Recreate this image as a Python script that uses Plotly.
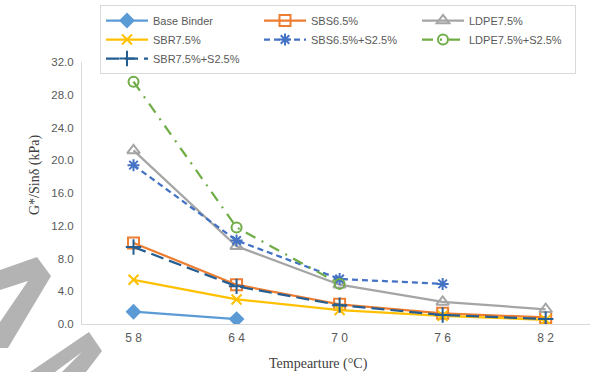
import plotly.graph_objects as go

categories = ["58", "64", "70", "76", "82"]
tick_labels = ["5 8", "6 4", "7 0", "7 6", "8 2"]

base_binder = [1.5, 0.6]
sbs65 = [9.9, 4.8, 2.4, 1.3, 0.8]
ldpe75 = [21.2, 9.5, 4.8, 2.7, 1.8]
sbr75 = [5.4, 3.0, 1.7, 1.0, 0.5]
sbs65_s25 = [19.4, 10.2, 5.5, 4.9]
ldpe75_s25 = [29.6, 11.8, 4.9]
sbr75_s25 = [9.4, 4.6, 2.3, 1.1, 0.6]

y_ticks = [0, 4, 8, 12, 16, 20, 24, 28, 32]

series = [
    ("Base Binder", base_binder, "#5B9BD5", "solid", "diamond", 10),
    ("SBS6.5%", sbs65, "#ED7D31", "solid", "square-open", 11),
    ("LDPE7.5%", ldpe75, "#A5A5A5", "solid", "triangle-up-open", 11),
    ("SBR7.5%", sbr75, "#FFC000", "solid", "x-thin-open", 10),
    ("SBS6.5%+S2.5%", sbs65_s25, "#4472C4", "6px,4px", "asterisk-open", 10),
    ("LDPE7.5%+S2.5%", ldpe75_s25, "#70AD47", "11px,7px,2px,7px", "circle-open", 10),
    ("SBR7.5%+S2.5%", sbr75_s25, "#255E91", "13px,6px", "cross-thin-open", 11),
]

fig = go.Figure()
for name, vals, color, dash, sym, size in series:
    fig.add_trace(go.Scatter(
        x=list(range(len(vals))), y=vals, name=name, mode="lines+markers",
        line=dict(color=color, width=2.25, dash=dash),
        marker=dict(symbol=sym, size=size, color=color,
                    line=dict(color=color, width=2)),
    ))

L, R, T, B = 82, 0, 62, 48
W, H = 590, 372
pw, ph = W - L - R, H - T - B

def px(x, y):
    return (x - L) / pw, (H - B - y) / ph

def poly(pts):
    s = ""
    for i, (x, y) in enumerate(pts):
        a, b = px(x, y)
        s += ("M" if i == 0 else "L") + f"{a:.4f},{b:.4f} "
    return s + "Z"

shapes = [
    dict(type="path", xref="paper", yref="paper", layer="above",
         path=poly([(0, 270), (37, 257), (51, 276), (8, 348), (0, 348), (0, 322), (28, 281), (0, 290)]),
         fillcolor="#B3B3B3", line=dict(width=0)),
    dict(type="path", xref="paper", yref="paper", layer="above",
         path=poly([(30, 372), (89, 332), (102, 351), (86, 372), (62, 372), (82, 352), (55, 372)]),
         fillcolor="#B3B3B3", line=dict(width=0)),
]

xt_x, xt_y = px(318, 364)
yt_x, yt_y = px(35, 175)
annotations = [
    dict(text="Tempearture (°C)", xref="paper", yref="paper", x=xt_x, y=xt_y,
         xanchor="center", yanchor="middle", showarrow=False,
         font=dict(family="Liberation Serif", size=14, color="#404040")),
    dict(text="G*/Sinδ (kPa)", xref="paper", yref="paper", x=yt_x, y=yt_y,
         xanchor="center", yanchor="middle", showarrow=False, textangle=-90,
         font=dict(family="Liberation Serif", size=14, color="#404040")),
]

fig.update_layout(
    width=W, height=H,
    margin=dict(l=L, r=R, t=T, b=B, autoexpand=False),
    paper_bgcolor="white", plot_bgcolor="white",
    font=dict(family="Liberation Sans", size=11, color="#595959"),
    showlegend=True,
    legend=dict(
        orientation="h", x=(100 - L) / pw, y=(H - B - 5) / ph,
        xanchor="left", yanchor="top",
        entrywidth=101, entrywidthmode="pixels",
        bordercolor="#D9D9D9", borderwidth=1, bgcolor="white",
        font=dict(family="Liberation Sans", size=11, color="#595959"),
        tracegroupgap=0, itemwidth=42,
    ),
    xaxis=dict(
        range=[-0.5, 4.43], tickmode="array", automargin=False,
        tickvals=list(range(len(categories))), ticktext=tick_labels,
        showgrid=False, zeroline=False, showline=True, linecolor="#D9D9D9",
        linewidth=1, ticks="", ticklabelstandoff=3,
        tickfont=dict(size=12, color="#595959"),
    ),
    yaxis=dict(
        range=[0, 32], tickmode="array", tickvals=y_ticks, automargin=False,
        ticktext=[f"{v:.1f}" for v in y_ticks],
        showgrid=False, zeroline=False, showline=True, linecolor="#D9D9D9",
        linewidth=1, ticks="", ticklabelstandoff=5,
        tickfont=dict(size=11.5, color="#595959"),
    ),
    shapes=shapes,
    annotations=annotations,
)

fig.write_html("out.html", config={"displayModeBar": False},
               post_script="document.body.style.margin='0px';")
